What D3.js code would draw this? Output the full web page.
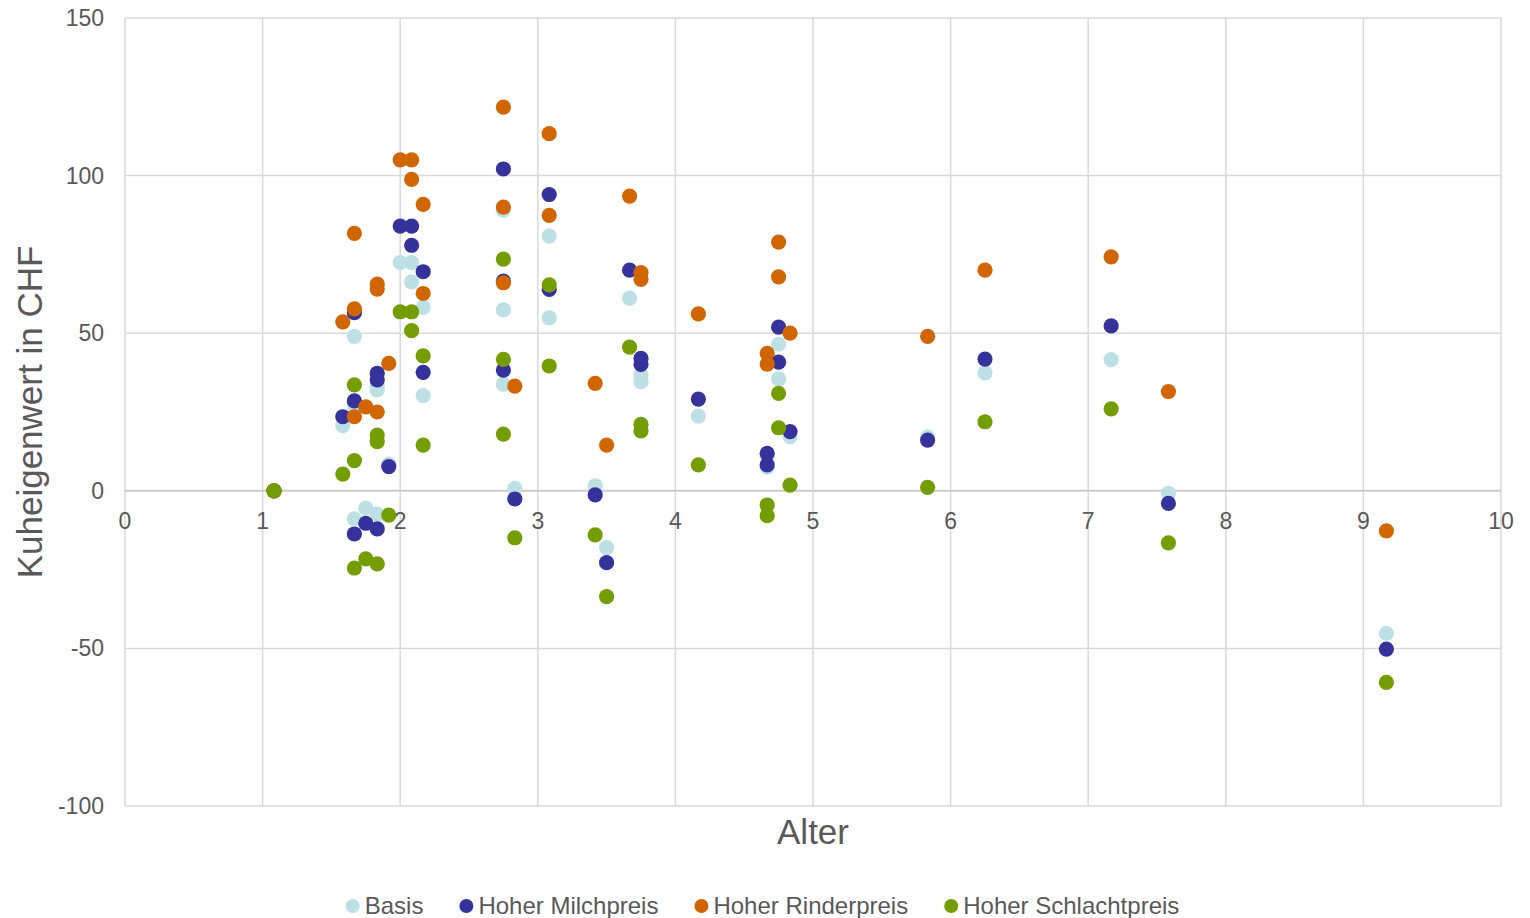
<!DOCTYPE html>
<html>
<head>
<meta charset="utf-8">
<script src="https://cdn.jsdelivr.net/npm/d3@7"></script>
<style>
  html, body { margin: 0; padding: 0; background: #ffffff; }
  svg { display: block; font-family: "Liberation Sans", Arial, sans-serif; }
</style>
</head>
<body>
<svg id="chart" width="1530" height="918"></svg>
<script>
// Age (years) of each animal
const ages = [
  1.083, 1.583, 1.667, 1.667, 1.667, 1.75, 1.833, 1.833, 1.833, 1.917,
  2.0, 2.083, 2.083, 2.167, 2.167, 2.75, 2.75, 2.75, 2.833, 3.083,
  3.083, 3.417, 3.5, 3.667, 3.75, 3.75, 4.167, 4.667, 4.667, 4.75,
  4.75, 4.833, 5.833, 6.25, 7.167, 7.583, 9.167
];
// Kuheigenwert in CHF per scenario (aligned with ages)
const basis = [
  0, 20.7, 49, 27, -8.9, -5.5, 33.5, 32, -7.4, 8.5,
  72.4, 72.4, 66.3, 58.2, 30.2, 89, 57.4, 33.8, 0.8, 80.8,
  54.9, 1.6, -18, 61.1, 36.7, 34.6, 23.7, 11, 7.5, 46.5,
  35.5, 17.2, 17, 37.4, 41.6, -0.8, -45.2
];
const milchpreis = [
  0, 23.5, 56.5, 28.5, -13.7, -10.3, 37.3, 35.2, -12.1, 7.7,
  84, 84, 77.9, 69.5, 37.6, 102.1, 66.5, 38.3, -2.6, 94,
  63.9, -1.3, -22.8, 70, 42, 40.1, 29.1, 11.9, 8.2, 51.9,
  40.8, 18.8, 16.1, 41.8, 52.3, -4, -50.2
];
const rinderpreis = [
  0, 53.6, 81.7, 57.7, 23.5, 26.6, 65.6, 64, 25, 40.4,
  105, 105, 98.8, 90.9, 62.6, 121.7, 90, 66, 33.2, 113.3,
  87.4, 34.1, 14.5, 93.5, 69.2, 67.1, 56.1, 43.6, 40.2, 78.9,
  67.9, 50, 49, 70, 74.2, 31.5, -12.7
];
const schlachtpreis = [
  0, 5.3, 33.6, 9.6, -24.5, -21.6, 17.7, 15.6, -23.2, -7.7,
  56.8, 56.8, 50.8, 42.8, 14.5, 73.5, 41.7, 18, -14.9, 65.3,
  39.6, -14, -33.6, 45.6, 21.1, 19, 8.2, -4.5, -7.9, 30.9,
  20, 1.8, 1.1, 21.9, 26, -16.5, -60.8
];
const seriesNames = ["Basis", "Hoher Milchpreis", "Hoher Rinderpreis", "Hoher Schlachtpreis"];
const seriesColors = ["#bce0e4", "#35329b", "#d16500", "#739d00"];
const xTicks = [0, 1, 2, 3, 4, 5, 6, 7, 8, 9, 10];
const yTicks = [-100, -50, 0, 50, 100, 150];
const xTitle = "Alter";
const yTitle = "Kuheigenwert in CHF";

const seriesValues = [basis, milchpreis, rinderpreis, schlachtpreis];

const svg = d3.select("#chart");
const plot = { left: 125, right: 1501, top: 18, bottom: 806 };
const textColor = "#595959";
const gridColor = "#d9d9d9";

const x = d3.scaleLinear().domain([0, 10]).range([plot.left, plot.right]);
const y = d3.scaleLinear().domain([-100, 150]).range([plot.bottom, plot.top]);

// gridlines
const g = svg.append("g");
g.selectAll("line.vgrid").data(xTicks).enter().append("line")
  .attr("x1", d => x(d)).attr("x2", d => x(d))
  .attr("y1", plot.top).attr("y2", plot.bottom)
  .attr("stroke", gridColor).attr("stroke-width", 1.5);
g.selectAll("line.hgrid").data(yTicks).enter().append("line")
  .attr("x1", plot.left).attr("x2", plot.right)
  .attr("y1", d => y(d)).attr("y2", d => y(d))
  .attr("stroke", d => d === 0 ? "#cccccc" : gridColor).attr("stroke-width", d => d === 0 ? 2 : 1.5);

// y tick labels
svg.append("g").selectAll("text").data(yTicks).enter().append("text")
  .attr("x", 104).attr("y", d => y(d))
  .attr("dy", "0.35em")
  .attr("text-anchor", "end")
  .attr("font-size", 23).attr("fill", textColor)
  .text(d => d);

// x tick labels (next to horizontal axis at y=0)
svg.append("g").selectAll("text").data(xTicks).enter().append("text")
  .attr("x", d => x(d)).attr("y", y(0) + 38)
  .attr("text-anchor", "middle")
  .attr("font-size", 23).attr("fill", textColor)
  .text(d => d);

// axis titles
svg.append("text")
  .attr("x", (plot.left + plot.right) / 2).attr("y", 844)
  .attr("text-anchor", "middle")
  .attr("font-size", 35).attr("fill", textColor)
  .text(xTitle);
svg.append("text")
  .attr("transform", `translate(41.5, ${(plot.top + plot.bottom) / 2}) rotate(-90)`)
  .attr("text-anchor", "middle")
  .attr("font-size", 35).attr("fill", textColor)
  .text(yTitle);

// points
seriesValues.forEach((vals, si) => {
  svg.append("g").selectAll("circle").data(vals).enter().append("circle")
    .attr("cx", (d, i) => x(ages[i]))
    .attr("cy", d => y(d))
    .attr("r", 7.6)
    .attr("fill", seriesColors[si]);
});

// legend
const leg = svg.append("g");
let cursor = 0;
seriesNames.forEach((name, i) => {
  const item = leg.append("g");
  item.append("circle").attr("cx", cursor).attr("cy", 0).attr("r", 7).attr("fill", seriesColors[i]);
  const t = item.append("text").attr("x", cursor + 12).attr("y", 0).attr("dy", "0.35em")
    .attr("font-size", 24).attr("fill", textColor).text(name);
  const w = t.node().getComputedTextLength();
  cursor += 12 + w + 43;
});
const totalW = cursor - 43 + 7;
leg.attr("transform", `translate(${762.5 - totalW / 2 + 7}, 906)`);
</script>
</body>
</html>
